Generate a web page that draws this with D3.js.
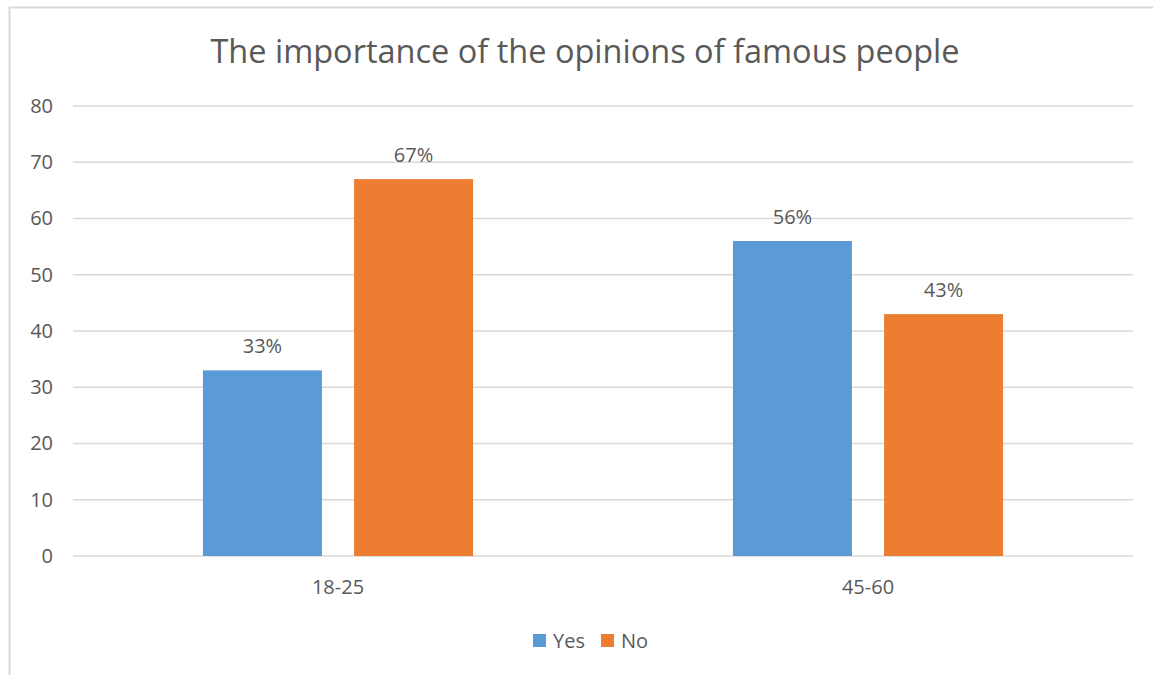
<!DOCTYPE html>
<html>
<head>
<meta charset="utf-8">
<script src="https://cdn.jsdelivr.net/npm/d3@7"></script>
<style>
  html, body { margin: 0; padding: 0; background: #fff; }
  svg { display: block; font-family: "Open Sans", "Liberation Sans", sans-serif; }
</style>
</head>
<body>
<svg id="chart" width="1153" height="675"></svg>
<script>
// Survey data
const title = "The importance of the opinions of famous people";
const categories = ["18-25", "45-60"];
const seriesNames = ["Yes", "No"];
const yesValues = [33, 56];
const noValues = [67, 43];
const yTicks = [0, 10, 20, 30, 40, 50, 60, 70, 80];
const colors = ["#5B9BD5", "#ED7D31"];

const series = [yesValues, noValues];
const svg = d3.select("#chart");
const W = 1153, H = 675;
const plot = { left: 73, right: 1133, top: 106, bottom: 556 };
const textColor = "#595959";
const fontFamily = "'Open Sans', 'Liberation Sans', sans-serif";
const labelSize = 20;

// Chart frame
svg.append("path")
  .attr("d", `M9.5,${H} V7.5 H${W}`)
  .attr("fill", "none")
  .attr("stroke", "#d9d9d9")
  .attr("stroke-width", 2);

// Title
svg.append("text")
  .attr("x", 585).attr("y", 63)
  .attr("text-anchor", "middle")
  .attr("font-size", 32.5)
  .attr("fill", textColor)
  .text(title);

const y = d3.scaleLinear().domain([0, 80]).range([plot.bottom, plot.top]);
const x0 = d3.scaleBand().domain(categories).range([plot.left, plot.right]).paddingInner(0).paddingOuter(0);
// Bar width 119 px in a 530 px category, 32 px gap between bars of a group
const barW = x0.bandwidth() * 119 / 530;
const gap = barW * 0.27;

// Gridlines
const grid = svg.append("g");
grid.selectAll("line").data(yTicks).join("line")
  .attr("x1", plot.left).attr("x2", plot.right)
  .attr("y1", d => y(d)).attr("y2", d => y(d))
  .attr("stroke", "#d9d9d9").attr("stroke-width", 1.5);

// Y axis labels
const yAxis = d3.axisLeft(y).tickValues(yTicks).tickSize(0).tickPadding(0);
const ya = svg.append("g").attr("transform", `translate(53,0)`).call(yAxis);
ya.select(".domain").remove();
ya.selectAll("text").attr("font-size", labelSize).attr("fill", textColor)
  .attr("font-family", fontFamily);

// Bars and value labels
categories.forEach((cat, ci) => {
  const groupW = barW * 2 + gap;
  const start = x0(cat) + (x0.bandwidth() - groupW) / 2;
  series.forEach((vals, si) => {
    const v = vals[ci];
    const bx = start + si * (barW + gap);
    svg.append("rect")
      .attr("x", bx).attr("y", y(v))
      .attr("width", barW).attr("height", y(0) - y(v))
      .attr("fill", colors[si]);
    svg.append("text")
      .attr("x", bx + barW / 2).attr("y", y(v) - 17)
      .attr("text-anchor", "middle")
      .attr("font-size", labelSize).attr("fill", textColor)
      .text(v + "%");
  });
});

// Category axis labels
const xAxis = d3.axisBottom(x0).tickSize(0).tickPadding(0);
const xa = svg.append("g").attr("transform", `translate(0,${plot.bottom + 24})`).call(xAxis);
xa.select(".domain").remove();
xa.selectAll("text").attr("font-size", labelSize).attr("fill", textColor)
  .attr("font-family", fontFamily);

// Legend
const legend = svg.append("g").attr("transform", "translate(533,634)");
const legendX = [0, 68];
seriesNames.forEach((name, i) => {
  const g = legend.append("g").attr("transform", `translate(${legendX[i]},0)`);
  g.append("rect").attr("width", 13).attr("height", 13).attr("fill", colors[i]);
  g.append("text").attr("x", 20).attr("y", 13.5)
    .attr("font-size", labelSize).attr("fill", textColor).text(name);
});
</script>
</body>
</html>
